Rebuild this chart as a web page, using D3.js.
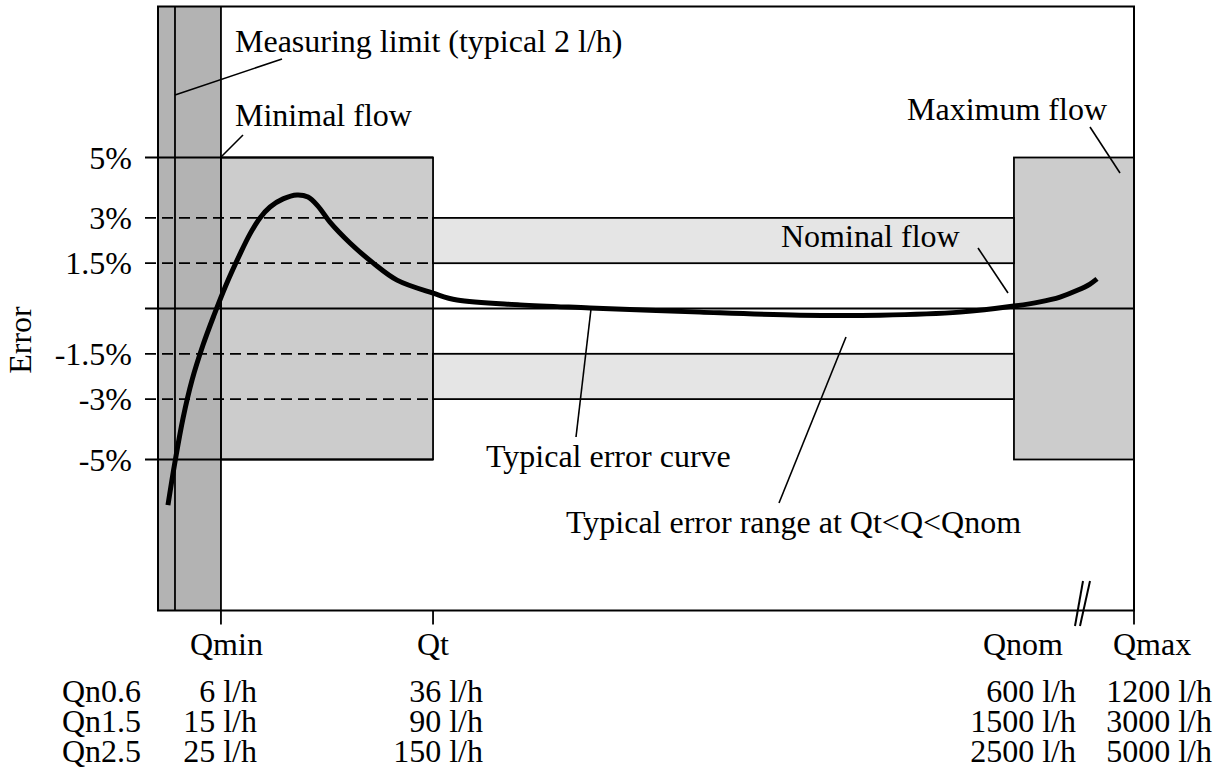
<!DOCTYPE html>
<html>
<head>
<meta charset="utf-8">
<script src="https://cdn.jsdelivr.net/npm/d3@7"></script>
<style>
  html, body { margin: 0; padding: 0; background: #fff; }
  svg text { font-family: "Liberation Serif", "Times New Roman", serif; fill: #000; }
</style>
</head>
<body>
<svg id="chart" width="1226" height="767"></svg>
<script>
// ---------------- data ----------------
const errorLevels = [5, 3, 1.5, 0, -1.5, -3, -5];
const errorTickLabels = ["5%", "3%", "1.5%", "", "-1.5%", "-3%", "-5%"];
const dashedLevels = [3, 1.5, -1.5, -3];
const classLimit = 5;             // +-5% box
const toleranceBand = [1.5, 3];   // typical error band
const flowMarks = ["Qmin", "Qt", "Qnom", "Qmax"];
const flowPos = [6.45, 28.18, 87.7, 100];   // relative position on schematic flow axis
const measuringLimitPos = 1.74;
const meterClasses = ["Qn0.6", "Qn1.5", "Qn2.5"];
const qminValues = ["6 l/h", "15 l/h", "25 l/h"];
const qtValues = ["36 l/h", "90 l/h", "150 l/h"];
const qnomValues = ["600 l/h", "1500 l/h", "2500 l/h"];
const qmaxValues = ["1200 l/h", "3000 l/h", "5000 l/h"];
const curveFlow  = [1.02, 1.74, 2.56, 3.48, 4.61, 5.74, 6.97, 8.40, 9.43, 10.45, 11.48, 12.81, 14.24, 15.37, 16.39, 17.62, 19.67, 22.03, 24.49, 28.18, 30.64, 37.09, 44.26, 55.53, 65.78, 73.98, 82.17, 87.70, 90.37, 92.42, 94.26, 95.49, 96.21];
const curveError = [-6.51, -5.08, -3.64, -2.38, -1.21, -0.22, 0.78, 1.80, 2.47, 3.00, 3.36, 3.63, 3.76, 3.69, 3.39, 2.86, 2.17, 1.51, 0.94, 0.51, 0.28, 0.12, 0.02, -0.12, -0.22, -0.22, -0.12, 0.08, 0.22, 0.38, 0.61, 0.81, 0.98];

// ---------------- layout ----------------
const svg = d3.select("#chart");
const x = d3.scaleLinear().domain([0, 100]).range([158, 1134]);
const y = d3.scaleLinear().domain([-10, 10]).range([610.5, 6.5]);
const FS = 32;
const LW = 1.8;
const tickLeft = 145;

const [qmin, qt, qnom, qmax] = flowPos;

// dark band (below measuring / minimal flow)
svg.append("rect")
  .attr("x", x(0)).attr("y", y(10))
  .attr("width", x(qmin) - x(0)).attr("height", y(-10) - y(10))
  .attr("fill", "#b3b3b3");

// class boxes Qmin..Qt and Qnom..Qmax
[[qmin, qt], [qnom, qmax]].forEach(([a, b]) => {
  svg.append("rect")
    .attr("x", x(a)).attr("y", y(classLimit))
    .attr("width", x(b) - x(a)).attr("height", y(-classLimit) - y(classLimit))
    .attr("fill", "#cccccc").attr("stroke", "#000").attr("stroke-width", LW);
});

// light tolerance bands Qt..Qnom
[[toleranceBand[0], toleranceBand[1]], [-toleranceBand[1], -toleranceBand[0]]].forEach(([lo, hi]) => {
  svg.append("rect")
    .attr("x", x(qt)).attr("y", y(hi))
    .attr("width", x(qnom) - x(qt)).attr("height", y(lo) - y(hi))
    .attr("fill", "#e5e5e5").attr("stroke", "#000").attr("stroke-width", LW);
});

// horizontal level lines
errorLevels.forEach(v => {
  const dashed = dashedLevels.includes(v);
  const x2 = v === 0 ? x(100) : x(qt);
  svg.append("line")
    .attr("x1", tickLeft).attr("x2", x2)
    .attr("y1", y(v)).attr("y2", y(v))
    .attr("stroke", "#000").attr("stroke-width", LW)
    .attr("stroke-dasharray", dashed ? "11,6" : null);
});

// vertical lines: measuring limit and Qmin
[measuringLimitPos, qmin].forEach(p => {
  svg.append("line")
    .attr("x1", x(p)).attr("x2", x(p))
    .attr("y1", y(10)).attr("y2", y(-10))
    .attr("stroke", "#000").attr("stroke-width", LW);
});

// frame
svg.append("rect")
  .attr("x", x(0)).attr("y", y(10))
  .attr("width", x(100) - x(0)).attr("height", y(-10) - y(10))
  .attr("fill", "none").attr("stroke", "#000").attr("stroke-width", 2);

// x-axis ticks at Qmin, Qt, Qmax
[qmin, qt, qmax].forEach(p => {
  svg.append("line")
    .attr("x1", x(p)).attr("x2", x(p))
    .attr("y1", y(-10)).attr("y2", y(-10) + 14)
    .attr("stroke", "#000").attr("stroke-width", LW);
});

// axis break //
[[1075, 1083], [1080, 1090]].forEach(([b, t]) => {
  svg.append("line")
    .attr("x1", b).attr("y1", 626).attr("x2", t).attr("y2", 581)
    .attr("stroke", "#000").attr("stroke-width", 2);
});

// y tick labels
errorLevels.forEach((v, i) => {
  if (!errorTickLabels[i]) return;
  svg.append("text")
    .attr("x", 132).attr("y", y(v) + 11)
    .attr("text-anchor", "end").attr("font-size", FS)
    .text(errorTickLabels[i]);
});

// y axis title
svg.append("text")
  .attr("transform", "translate(31,340) rotate(-90)")
  .attr("text-anchor", "middle").attr("font-size", FS)
  .text("Error");

// x labels
const flowLabelX = [190, 417, 983, 1113];
flowMarks.forEach((m, i) => {
  svg.append("text").attr("x", flowLabelX[i]).attr("y", 655)
    .attr("font-size", FS).text(m);
});

// table of nominal flows
const rowY = [702, 732, 762];
const cols = [
  { vals: meterClasses, x: 62, anchor: "start" },
  { vals: qminValues, x: 257, anchor: "end" },
  { vals: qtValues, x: 483, anchor: "end" },
  { vals: qnomValues, x: 1076, anchor: "end" },
  { vals: qmaxValues, x: 1212, anchor: "end" }
];
cols.forEach(c => {
  c.vals.forEach((t, i) => {
    svg.append("text").attr("x", c.x).attr("y", rowY[i])
      .attr("text-anchor", c.anchor).attr("font-size", FS).text(t);
  });
});

// typical error curve
const line = d3.line()
  .x(d => x(d[0])).y(d => y(d[1]))
  .curve(d3.curveCatmullRom.alpha(0.5));
svg.append("path")
  .datum(curveFlow.map((f, i) => [f, curveError[i]]))
  .attr("d", line)
  .attr("fill", "none").attr("stroke", "#000").attr("stroke-width", 5)
  .attr("stroke-linejoin", "round");

// annotations
const notes = [
  { text: "Measuring limit (typical 2 l/h)", tx: 235, ty: 52, l: [282, 59, 175, 95] },
  { text: "Minimal flow", tx: 235, ty: 126, l: [243, 135, 221, 157] },
  { text: "Maximum flow", tx: 907, ty: 120, l: [1090, 127, 1120, 173] },
  { text: "Nominal flow", tx: 781, ty: 247, l: [978, 248, 1008, 293] },
  { text: "Typical error curve", tx: 486, ty: 467, l: [576, 437, 591, 309] },
  { text: "Typical error range at Qt<Q<Qnom", tx: 566, ty: 533, l: [779, 503, 846, 337] }
];
notes.forEach(n => {
  svg.append("line")
    .attr("x1", n.l[0]).attr("y1", n.l[1]).attr("x2", n.l[2]).attr("y2", n.l[3])
    .attr("stroke", "#000").attr("stroke-width", 1.6);
  svg.append("text").attr("x", n.tx).attr("y", n.ty)
    .attr("font-size", FS).text(n.text);
});
</script>
</body>
</html>
